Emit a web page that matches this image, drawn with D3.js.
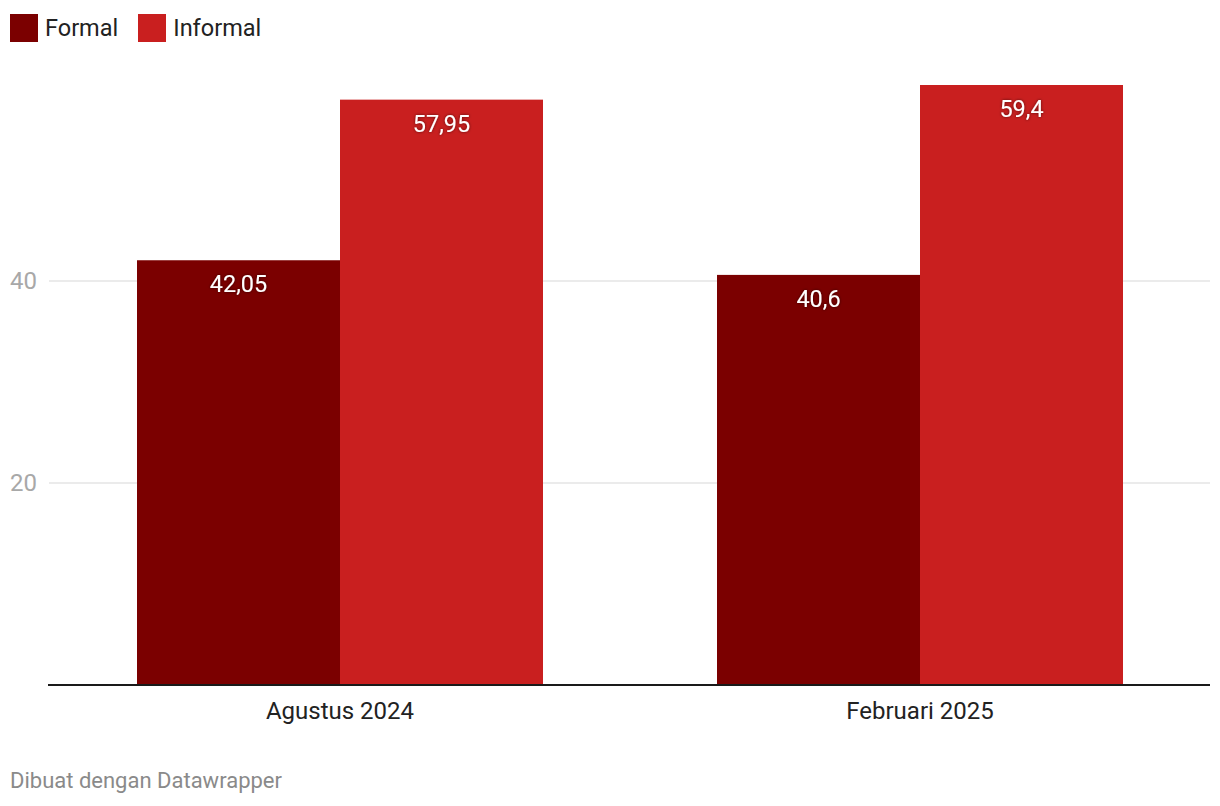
<!DOCTYPE html>
<html>
<head>
<meta charset="utf-8">
<script src="https://cdn.jsdelivr.net/npm/d3@7"></script>
<style>
  body { margin: 0; background: #fff; font-family: Roboto, "Noto Sans", sans-serif; }
  .legend { position: absolute; left: 10px; top: 14px; display: flex; font-size: 23.5px; color: #222; }
  .legend .item { display: flex; align-items: center; margin-right: 20px; }
  .legend .sw { width: 28px; height: 28px; margin-right: 7px; }
  .footer { position: absolute; left: 10px; top: 768px; font-size: 22px; color: #8a8a8a; }
</style>
</head>
<body>
<div class="legend"></div>
<svg id="chart" width="1220" height="806" style="position:absolute;left:0;top:0"></svg>
<div class="footer">Dibuat dengan Datawrapper</div>
<script>
// data
const periods = ['Agustus 2024', 'Februari 2025'];
const seriesNames = ['Formal', 'Informal'];
const formal = [42.05, 40.6];
const informal = [57.95, 59.4];
const yTicks = [20, 40];
const colors = ['#7b0000', '#c91f1f'];

const baseY = 685;
const topY = 85;

const svg = d3.select('#chart');

// legend
const legend = d3.select('.legend').selectAll('.item')
    .data(seriesNames)
    .enter().append('div')
    .attr('class', 'item');
legend.append('div').attr('class', 'sw').style('background', (d, i) => colors[i]);
legend.append('span').text(d => d);

// scales
const xScale = d3.scaleBand()
    .domain(periods)
    .range([50, 1210]);

const xSub = d3.scaleBand()
    .domain(seriesNames)
    .range([0, 406]);

const yScale = d3.scaleLinear()
    .domain([0, 59.4])
    .range([baseY, topY]);

// grid + ticks
const grid = svg.append('g');
yTicks.forEach(t => {
    grid.append('line')
        .attr('x1', 49).attr('x2', 1210)
        .attr('y1', yScale(t)).attr('y2', yScale(t))
        .attr('stroke', '#e5e5e5').attr('stroke-width', 1.5);
    grid.append('text')
        .attr('x', 10).attr('y', yScale(t))
        .attr('dy', '0.35em')
        .attr('fill', '#a8a8a8')
        .attr('font-size', 24)
        .text(t);
});

// bars
const rows = periods.map((p, i) => ({period: p, vals: [formal[i], informal[i]]}));
const groups = svg.selectAll('.group')
    .data(rows)
    .enter().append('g')
    .attr('class', 'group')
    .attr('transform', d => 'translate(' + (xScale(d.period) + xScale.bandwidth() / 2 - 203) + ',0)');

const defs = svg.append('defs');
const f = defs.append('filter').attr('id', 'shadow');
f.append('feDropShadow').attr('dx', 0).attr('dy', 0).attr('stdDeviation', 1.5)
    .attr('flood-color', '#000').attr('flood-opacity', 0.6);

groups.selectAll('rect')
    .data(d => d.vals.map((v, i) => ({name: seriesNames[i], v: v, i: i})))
    .enter().append('rect')
    .attr('x', d => xSub(d.name))
    .attr('width', d => xSub.bandwidth() + (d.i === 0 ? 0.5 : 0))
    .attr('y', d => yScale(d.v))
    .attr('height', d => baseY - yScale(d.v))
    .attr('fill', d => colors[d.i]);

groups.selectAll('.val')
    .data(d => d.vals.map((v, i) => ({name: seriesNames[i], v: v})))
    .enter().append('text')
    .attr('class', 'val')
    .attr('x', d => xSub(d.name) + xSub.bandwidth() / 2)
    .attr('y', d => yScale(d.v) + 32)
    .attr('text-anchor', 'middle')
    .attr('fill', '#fff')
    .attr('font-size', 23.5)
    .attr('filter', 'url(#shadow)')
    .text(d => String(d.v).replace('.', ','));

// x axis
svg.append('line')
    .attr('x1', 48).attr('x2', 1210)
    .attr('y1', baseY).attr('y2', baseY)
    .attr('stroke', '#1a1a1a').attr('stroke-width', 2);

svg.selectAll('.cat')
    .data(periods)
    .enter().append('text')
    .attr('class', 'cat')
    .attr('x', d => xScale(d) + xScale.bandwidth() / 2)
    .attr('y', 719)
    .attr('text-anchor', 'middle')
    .attr('fill', '#222')
    .attr('font-size', 24)
    .text(d => d);
</script>
</body>
</html>
